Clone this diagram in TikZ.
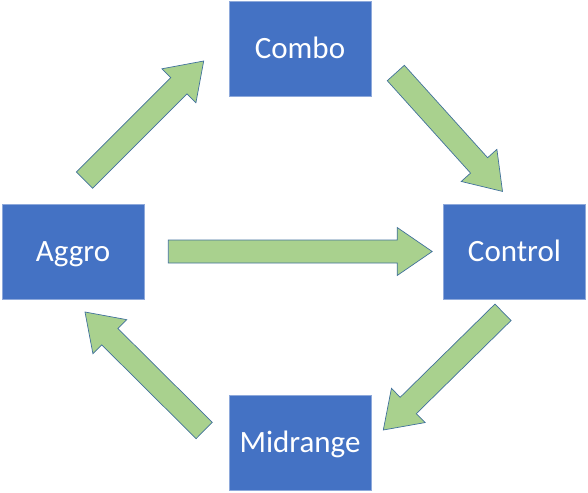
\documentclass[tikz,border=0pt]{standalone}
\usepackage{fontspec}
\setmainfont{Carlito}
\usepackage{xcolor}
\usepackage{tikz}
\usetikzlibrary{
    calc
}

\definecolor{deckblue}{HTML}{4472C4}
\definecolor{deckedge}{HTML}{8EA9DB}
\definecolor{flowgreen}{HTML}{A9D18E}
\definecolor{flowedge}{HTML}{41719C}

\begin{document}
\begin{tikzpicture}[
        x=1pt, y=-1pt,
        deck/.style={
            rectangle,
            fill=deckblue,
            draw=deckedge,
            line width=0.6pt,
            text=white,
            font=\fontsize{31}{37}\selectfont,
            text height=20pt,
            text depth=1pt,
            minimum width=142pt,
            minimum height=95pt,
            inner sep=0pt
        },
        flow/.style={
            fill=flowgreen,
            draw=flowedge,
            line width=0.7pt,
            line join=miter
        }
    ]

    \useasboundingbox (0,0) rectangle (588,492);

    \node[deck] (combo)    at (300,49)    {Combo};
    \node[deck] (aggro)    at (73,251.5)  {Aggro};
    \node[deck] (control)  at (514.5,251.5) {Control};
    \node[deck] (midrange) at (300,442.5) {Midrange};

    % arrow ends, tail and tip
    \coordinate (ac-s) at ($(aggro.north)+(11.5,-23.5)$);
    \coordinate (ac-t) at ($(combo.west)+(-25,12)$);
    \coordinate (cc-s) at ($(combo.east)+(24.5,24)$);
    \coordinate (cc-t) at ($(control.north)+(-12,-12.3)$);
    \coordinate (ak-s) at ($(aggro.east)+(24,0)$);
    \coordinate (ak-t) at ($(control.west)+(-11,0)$);
    \coordinate (cm-s) at ($(control.south)+(-11.5,13)$);
    \coordinate (cm-t) at ($(midrange.east)+(12,-12.5)$);
    \coordinate (ma-s) at ($(midrange.west)+(-24.5,-12)$);
    \coordinate (ma-t) at ($(aggro.south)+(12,12.7)$);

    \foreach \s/\t in {ac-s/ac-t, cc-s/cc-t, ak-s/ak-t, cm-s/cm-t, ma-s/ma-t} {
        \coordinate (h) at ($(\t)!35pt!(\s)$);
        \draw[flow]
            ($(\s)!11.5pt!90:(\t)$)
            -- ($(h)!11.5pt!90:(\t)$)
            -- ($(h)!24pt!90:(\t)$)
            -- (\t)
            -- ($(h)!24pt!-90:(\t)$)
            -- ($(h)!11.5pt!-90:(\t)$)
            -- ($(\s)!11.5pt!-90:(\t)$)
            -- cycle;
    }

\end{tikzpicture}
\end{document}
